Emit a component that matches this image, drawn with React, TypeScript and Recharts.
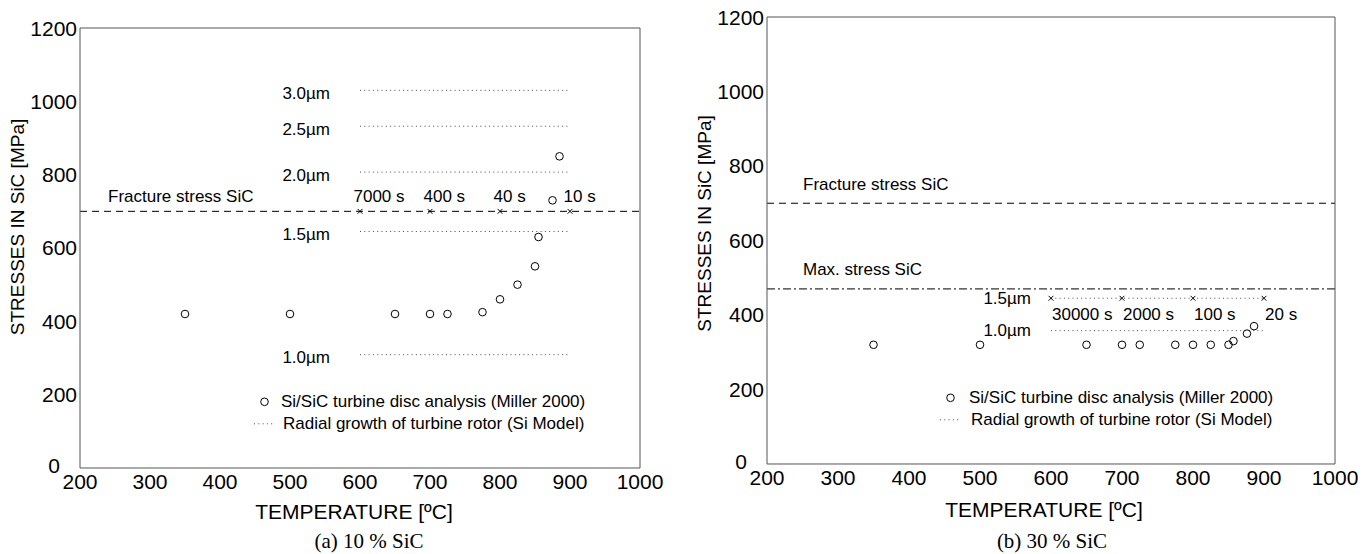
import React from "react";
import {
  ComposedChart,
  XAxis,
  YAxis,
  Scatter,
  Line,
  ReferenceLine,
  LabelList,
  Label,
} from "recharts";

// axes
const xTicks = [200, 300, 400, 500, 600, 700, 800, 900, 1000];
const yTicks = [0, 200, 400, 600, 800, 1000, 1200];

// (a) 10 % SiC - Miller 2000 points
const tempsA = [350, 500, 650, 700, 725, 775, 800, 825, 850, 855, 875, 885];
const stressA = [420, 420, 420, 420, 420, 425, 460, 500, 550, 630, 730, 850];

// (b) 30 % SiC - Miller 2000 points
const tempsB = [350, 500, 650, 700, 725, 775, 800, 825, 850, 857, 876, 886];
const stressB = [320, 320, 320, 320, 320, 320, 320, 320, 320, 330, 350, 370];

// radial growth lines (Si model)
const growthSpan = [600, 900];
const growthLabelsA = ["3.0µm", "2.5µm", "2.0µm", "1.5µm", "1.0µm"];
const growthStressA = [1030, 932, 807, 645, 309];
const growthLabelsB = ["1.5µm", "1.0µm"];
const growthStressB = [445, 358];

// time markers
const timeTemps = [600, 700, 800, 900];
const timeLabelsA = ["7000 s", "400 s", "40 s", "10 s"];
const timeLabelsB = ["30000 s", "2000 s", "100 s", "20 s"];

const fractureStress = 700;
const maxStressB = 470;

const FONT = "'Liberation Sans', Arial, Helvetica, sans-serif";
const AXIS = "#555";
const DOTS = "#4a4a4a";
const THIN = 0.01; // recharts skips axes of size 0

const Circle = (p: any) => (
  <circle cx={p.cx} cy={p.cy} r={3.8} fill="none" stroke="#000" strokeWidth={1} />
);

const Cross = (p: any) => (
  <g stroke="#000" strokeWidth={1}>
    <line x1={p.cx - 2.4} y1={p.cy - 2.4} x2={p.cx + 2.4} y2={p.cy + 2.4} />
    <line x1={p.cx - 2.4} y1={p.cy + 2.4} x2={p.cx + 2.4} y2={p.cy - 2.4} />
  </g>
);

const YTick = (p: any) => {
  const zero = p.payload.value === 0;
  return (
    <text
      x={p.x + (zero ? -17 : 0)}
      y={p.y + (zero ? -2 : 0)}
      textAnchor="end"
      dominantBaseline="central"
      fontSize={21}
      fill="#000"
    >
      {p.payload.value}
    </text>
  );
};

const center = (lp: any) => {
  const vb = lp.viewBox && lp.viewBox.x !== undefined ? lp.viewBox : lp;
  return { cx: vb.x + (vb.width || 0) / 2, cy: vb.y + (vb.height || 0) / 2 };
};

type PanelProps = {
  width: number;
  margin: { top: number; left: number; right: number; bottom: number };
  temps: number[];
  stress: number[];
  growthLabels: string[];
  growthStress: number[];
  growthGap: number;
  growthDy: number;
  markerStress: number;
  timeLabels: string[];
  timeDx: number;
  timeDy: number;
  refDx: number;
  refDy: number;
  maxStress?: number;
  xLabelDx: number;
  xLabelDy: number;
  yLabelDy: number;
};

function Panel(props: PanelProps) {
  const points = props.temps.map((t, i) => ({ x: t, y: props.stress[i] }));
  const markers = timeTemps.map((t, i) => ({
    x: t,
    y: props.markerStress,
    label: props.timeLabels[i],
  }));

  const refLabel = (text: string) => (
    <Label
      content={(lp: any) => (
        <text
          x={lp.viewBox.x + props.refDx}
          y={lp.viewBox.y + props.refDy}
          dominantBaseline="central"
          fontSize={17}
          fill="#000"
        >
          {text}
        </text>
      )}
    />
  );

  return (
    <ComposedChart width={props.width} height={554} margin={props.margin}>
      <XAxis
        xAxisId="m"
        type="number"
        dataKey="x"
        domain={[200, 1000]}
        ticks={xTicks}
        interval={0}
        allowDataOverflow
        height={THIN}
        tickSize={0}
        tickMargin={6}
        tickLine={false}
        stroke={AXIS}
        tick={{ fontSize: 21, fill: "#000" }}
        label={
          <Label
            content={(lp: any) => (
              <text
                x={lp.viewBox.x + lp.viewBox.width / 2 + props.xLabelDx}
                y={lp.viewBox.y + props.xLabelDy}
                textAnchor="middle"
                dominantBaseline="central"
                fontSize={21}
                fill="#000"
              >
                TEMPERATURE [ºC]
              </text>
            )}
          />
        }
      />
      <XAxis
        xAxisId="in"
        type="number"
        dataKey="x"
        domain={[200, 1000]}
        ticks={xTicks}
        interval={0}
        allowDataOverflow
        height={THIN}
        mirror
        tick={false}
        tickSize={5}
        stroke={AXIS}
        axisLine={false}
      />
      <XAxis
        xAxisId="top"
        orientation="top"
        type="number"
        dataKey="x"
        domain={[200, 1000]}
        ticks={xTicks}
        interval={0}
        allowDataOverflow
        height={THIN}
        mirror
        tick={false}
        tickSize={5}
        stroke={AXIS}
      />
      <YAxis
        yAxisId="m"
        type="number"
        dataKey="y"
        domain={[0, 1200]}
        ticks={yTicks}
        interval={0}
        allowDataOverflow
        width={THIN}
        tickSize={0}
        tickMargin={3}
        tickLine={false}
        stroke={AXIS}
        tick={<YTick />}
        label={
          <Label
            content={(lp: any) => {
              const cx = lp.viewBox.x - 62;
              const cy = lp.viewBox.y + lp.viewBox.height / 2 + props.yLabelDy;
              return (
                <text
                  x={cx}
                  y={cy}
                  transform={`rotate(-90 ${cx} ${cy})`}
                  textAnchor="middle"
                  dominantBaseline="central"
                  fontSize={19}
                  fill="#000"
                >
                  STRESSES IN SiC [MPa]
                </text>
              );
            }}
          />
        }
      />
      <YAxis
        yAxisId="in"
        type="number"
        dataKey="y"
        domain={[0, 1200]}
        ticks={yTicks}
        interval={0}
        allowDataOverflow
        width={THIN}
        mirror
        tick={false}
        tickSize={5}
        stroke={AXIS}
        axisLine={false}
      />
      <YAxis
        yAxisId="right"
        orientation="right"
        type="number"
        dataKey="y"
        domain={[0, 1200]}
        ticks={yTicks}
        interval={0}
        allowDataOverflow
        width={THIN}
        mirror
        tick={false}
        tickSize={5}
        stroke={AXIS}
      />

      <ReferenceLine
        xAxisId="m"
        yAxisId="m"
        y={fractureStress}
        stroke="#000"
        strokeDasharray="7 5"
        label={refLabel("Fracture stress SiC")}
      />
      {props.maxStress !== undefined && (
        <ReferenceLine
          xAxisId="m"
          yAxisId="m"
          y={props.maxStress}
          stroke="#000"
          strokeDasharray="8 3 2 3"
          label={refLabel("Max. stress SiC")}
        />
      )}

      {props.growthLabels.map((name, i) => (
        <Line
          key={name}
          xAxisId="m"
          yAxisId="m"
          data={growthSpan.map((x) => ({ x, y: props.growthStress[i] }))}
          dataKey="y"
          stroke={DOTS}
          strokeWidth={1}
          strokeDasharray="1 3.3"
          dot={false}
          activeDot={false}
          isAnimationActive={false}
          label={(lp: any) =>
            lp.index === 0 ? (
              <text
                key={name}
                x={lp.x - props.growthGap}
                y={lp.y + props.growthDy}
                textAnchor="end"
                dominantBaseline="central"
                fontSize={17}
                fill="#000"
              >
                {name}
              </text>
            ) : (
              <g key={name + lp.index} />
            )
          }
        />
      ))}

      <Scatter
        xAxisId="m"
        yAxisId="m"
        data={markers}
        dataKey="y"
        shape={Cross}
        isAnimationActive={false}
      >
        <LabelList
          dataKey="label"
          content={(lp: any) => {
            const c = center(lp);
            return (
              <text
                x={c.cx + props.timeDx}
                y={c.cy + props.timeDy}
                dominantBaseline="central"
                fontSize={17}
                fill="#000"
              >
                {lp.value}
              </text>
            );
          }}
        />
      </Scatter>

      <Scatter
        xAxisId="m"
        yAxisId="m"
        data={points}
        dataKey="y"
        shape={Circle}
        isAnimationActive={false}
      />
    </ComposedChart>
  );
}

function LegendBox({ left, top, gap1, gap2 }: { left: number; top: number; gap1: number; gap2: number }) {
  return (
    <div style={{ position: "absolute", left, top, fontSize: 17, lineHeight: "21.6px", whiteSpace: "nowrap" }}>
      <div style={{ display: "flex", alignItems: "center", height: 21.6 }}>
        <svg width={gap1} height={21.6}>
          <circle cx={10.5} cy={10.8} r={3.8} fill="none" stroke="#000" />
        </svg>
        <span>Si/SiC turbine disc analysis (Miller 2000)</span>
      </div>
      <div style={{ display: "flex", alignItems: "center", height: 21.6 }}>
        <svg width={gap2} height={21.6}>
          <line x1={0} x2={19} y1={10.8} y2={10.8} stroke={DOTS} strokeDasharray="1 3.3" />
        </svg>
        <span>Radial growth of turbine rotor (Si Model)</span>
      </div>
    </div>
  );
}

const captionStyle: React.CSSProperties = {
  position: "absolute",
  top: 529,
  width: 200,
  textAlign: "center",
  fontFamily: "'Liberation Serif', 'Times New Roman', serif",
  fontSize: 21,
  lineHeight: "25px",
};

export default function App() {
  return (
    <div
      style={{
        position: "absolute",
        left: 0,
        top: 0,
        width: 1369,
        height: 554,
        background: "#fff",
        fontFamily: FONT,
        color: "#000",
        overflow: "hidden",
      }}
    >
      <div style={{ position: "absolute", left: 0, top: 0, width: 680, height: 554 }}>
        <Panel
          width={680}
          margin={{ top: 28, left: 80, right: 40, bottom: 86 }}
          temps={tempsA}
          stress={stressA}
          growthLabels={growthLabelsA}
          growthStress={growthStressA}
          growthGap={30}
          growthDy={3}
          markerStress={fractureStress}
          timeLabels={timeLabelsA}
          timeDx={-6.5}
          timeDy={-15}
          refDx={28}
          refDy={-15}
          xLabelDx={-6}
          xLabelDy={44}
          yLabelDy={-21}
        />
        <LegendBox left={254} top={391} gap1={27} gap2={29} />
        <div style={{ ...captionStyle, left: 269 }}>(a) 10 % SiC</div>
      </div>
      <div style={{ position: "absolute", left: 680, top: 0, width: 689, height: 554 }}>
        <Panel
          width={689}
          margin={{ top: 17, left: 87, right: 34, bottom: 90 }}
          temps={tempsB}
          stress={stressB}
          growthLabels={growthLabelsB}
          growthStress={growthStressB}
          growthGap={20}
          growthDy={0}
          markerStress={growthStressB[0]}
          timeLabels={timeLabelsB}
          timeDx={1}
          timeDy={16}
          refDx={36}
          refDy={-19}
          maxStress={maxStressB}
          xLabelDx={-7}
          xLabelDy={46}
          yLabelDy={-17}
        />
        <LegendBox left={260} top={387} gap1={29} gap2={31} />
        <div style={{ ...captionStyle, left: 272 }}>(b) 30 % SiC</div>
      </div>
    </div>
  );
}
